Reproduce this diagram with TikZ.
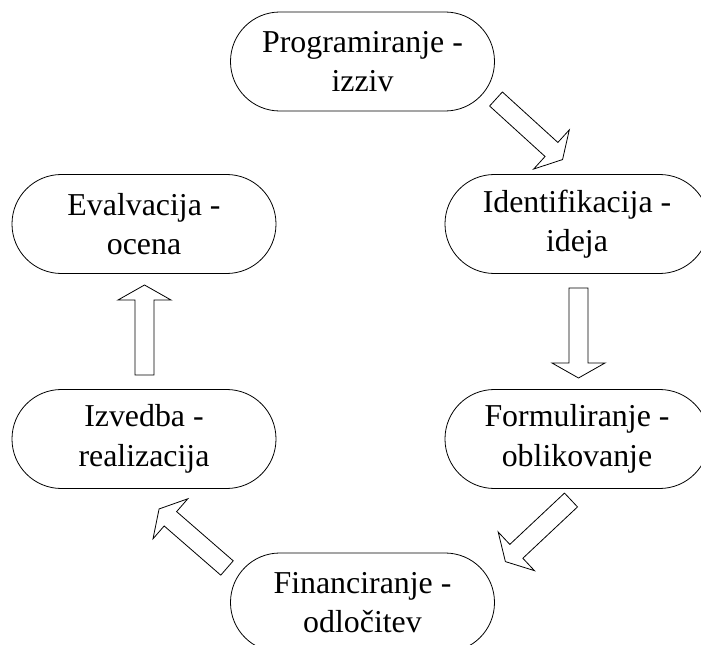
\documentclass[tikz,border=0pt]{standalone}
\usepackage{fontspec}
\setmainfont{Liberation Serif}
\begin{document}
\begin{tikzpicture}[x=0.75pt,y=-0.75pt,
  stage/.style={draw, line width=0.6pt, rounded corners=37pt,
    minimum width=198pt, minimum height=74.25pt, inner sep=0pt,
    align=center, font=\fontsize{23.9}{29.6}\selectfont},
  blockarrow/.pic={
    \draw[line width=0.6pt, line join=miter, fill=white]
      (0,-9.5) -- (75,-9.5) -- (75,-26.5) -- (90,0) -- (75,26.5)
      -- (75,9.5) -- (0,9.5) -- cycle;
  }]
\useasboundingbox (0,0) rectangle (701,645);
\begin{scope}
\clip (0,0) rectangle (701,645);
% cycle stages
\node[stage] (prog)  at (362.5,61.5)  {Programiranje -\\izziv};
\node[stage] (ident) at (577,224)     {Identifikacija -\\ideja};
\node[stage] (form)  at (577,439)     {Formuliranje -\\oblikovanje};
\node[stage] (fin)   at (362.5,602.5) {Financiranje -\\odločitev};
\node[stage] (izv)   at (144,439)     {Izvedba -\\realizacija};
\node[stage] (eval)  at (144,224)     {Evalvacija -\\ocena};
% hollow block arrows between the stages
\coordinate (a1) at (496,99);
\coordinate (a2) at (578.5,288);
\coordinate (a3) at (571,500);
\coordinate (a4) at (227,568);
\coordinate (a5) at (144.5,375);
\pic[rotate=-42.3]  at (a1) {blockarrow};
\pic[rotate=-90]    at (a2) {blockarrow};
\pic[rotate=-136.8] at (a3) {blockarrow};
\pic[rotate=139]    at (a4) {blockarrow};
\pic[rotate=90]     at (a5) {blockarrow};
\end{scope}
\end{tikzpicture}
\end{document}
